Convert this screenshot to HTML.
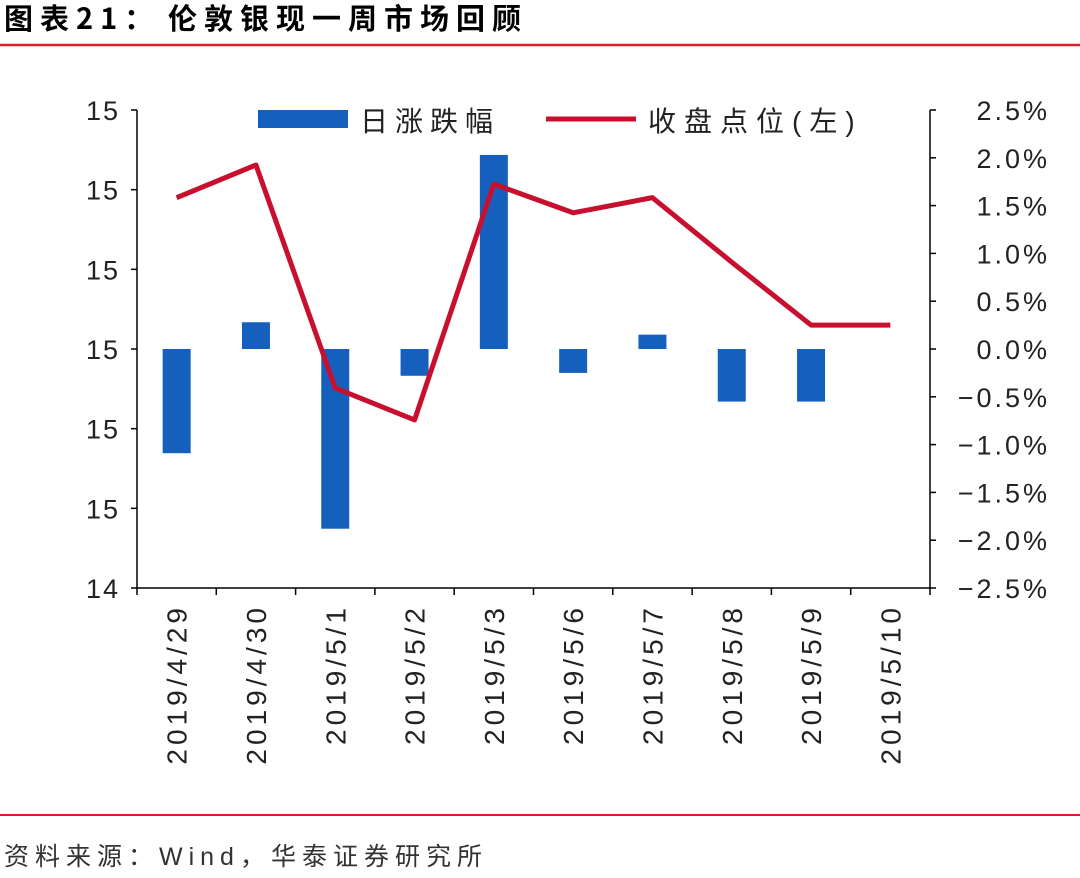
<!DOCTYPE html>
<html><head><meta charset="utf-8"><style>
html,body{margin:0;padding:0;background:#fff;width:1080px;height:878px;overflow:hidden}
svg text{font-family:"Liberation Sans","Noto Sans CJK SC",sans-serif}
</style></head><body>
<svg id="chart" width="1080" height="878" xmlns="http://www.w3.org/2000/svg">
<text x="4" y="29" font-size="29" font-weight="bold" fill="#000" style="font-family:'Noto Sans CJK SC',sans-serif;letter-spacing:7px">图表21：<tspan x="168">伦敦银现一周市场回顾</tspan></text>
<line x1="0" y1="45" x2="1080" y2="45" stroke="#d9202a" stroke-width="2.5"/>
<line x1="0" y1="815" x2="1080" y2="815" stroke="#d9202a" stroke-width="2"/>
<text x="4" y="865" font-size="25" fill="#333" style="letter-spacing:6px">资料来源：Wind，华泰证券研究所</text>
<g id="axes"></g><g id="bars"></g><g id="line"></g>
<g>
<rect x="258" y="110" width="90" height="18" fill="#1560bd"/>
<text x="360" y="131" font-size="28" fill="#222" style="letter-spacing:7px">日涨跌幅</text>
<line x1="546" y1="119" x2="636" y2="119" stroke="#c8102e" stroke-width="5"/>
<text x="648" y="131" font-size="28" fill="#222" style="letter-spacing:8px">收盘点位(左)</text>
</g>
</svg>
<script>
const categories=["2019/4/29","2019/4/30","2019/5/1","2019/5/2","2019/5/3","2019/5/6","2019/5/7","2019/5/8","2019/5/9","2019/5/10"];
const dailyChange=[-1.09,0.28,-1.88,-0.28,2.03,-0.25,0.15,-0.55,-0.55,0];
const closePrice=[14.890,14.931,14.651,14.611,14.907,14.871,14.890,14.809,14.730,14.730];
const leftTicks=[14.4,14.5,14.6,14.7,14.8,14.9,15.0];
const leftTickLabels=["14","15","15","15","15","15","15"];
const rightTicks=[-2.5,-2.0,-1.5,-1.0,-0.5,0,0.5,1.0,1.5,2.0,2.5];
const rightTickLabels=["−2.5%","−2.0%","−1.5%","−1.0%","−0.5%","0.0%","0.5%","1.0%","1.5%","2.0%","2.5%"];
const NS="http://www.w3.org/2000/svg";
const X0=137,X1=930,Y0=588,Y1=110;
const bw=(X1-X0)/categories.length;
const xC=i=>X0+bw*(i+0.5);
const yL=v=>Y0-(v-14.4)/(15.0-14.4)*(Y0-Y1);
const yR=v=>Y0-(v+2.5)/5*(Y0-Y1);
function mk(tag,attrs,parent){const e=document.createElementNS(NS,tag);for(const k in attrs)e.setAttribute(k,attrs[k]);parent.appendChild(e);return e;}
const ax=document.getElementById('axes');
let e=mk('line',{x1:X0,y1:Y1,x2:X0,y2:Y0,stroke:'#000','stroke-width':1.5},ax);


e=mk('line',{x1:X1,y1:Y1,x2:X1,y2:Y0,stroke:'#000','stroke-width':1.5},ax);


e=mk('line',{x1:X0,y1:Y0,x2:X1,y2:Y0,stroke:'#000','stroke-width':1.5},ax);


leftTicks.forEach((v,i)=>{const y=yL(v);
 mk('line',{x1:X0-6,y1:y,x2:X0,y2:y,stroke:'#000','stroke-width':1.5},ax);
 const t=mk('text',{x:120,y:y+10,'font-size':27,'text-anchor':'end',fill:'#222',style:'letter-spacing:2px'},ax);t.textContent=leftTickLabels[i];
 
 });
rightTicks.forEach((v,i)=>{const y=yR(v);
 mk('line',{x1:X1,y1:y,x2:X1+6,y2:y,stroke:'#000','stroke-width':1.5},ax);
 const t=mk('text',{x:1050,y:y+10,'font-size':27,'text-anchor':'end',fill:'#222',style:'letter-spacing:3px'},ax);t.textContent=rightTickLabels[i];
 
 });
for(let i=0;i<=categories.length;i++){const x=X0+bw*i;mk('line',{x1:x,y1:Y0,x2:x,y2:Y0+7,stroke:'#000','stroke-width':1.5},ax);}
categories.forEach((c,i)=>{const x=xC(i);
 const t=mk('text',{x:0,y:0,'font-size':28,'text-anchor':'end',fill:'#222',style:'letter-spacing:4px',transform:`translate(${x+10},604) rotate(-90)`},ax);t.textContent=c;
 
 });
const bg=document.getElementById('bars');
dailyChange.forEach((v,i)=>{if(v===0)return;const y0=yR(0),y=yR(v);
 const r=mk('rect',{x:xC(i)-14,y:Math.min(y0,y),width:28,height:Math.abs(y-y0),fill:'#1560bd'},bg);
 
 });
const lg=document.getElementById('line');
const p=mk('polyline',{points:closePrice.map((v,i)=>xC(i)+','+yL(v)).join(' '),fill:'none',stroke:'#c8102e','stroke-width':5,'stroke-linejoin':'round'},lg);


</script>
</body></html>
